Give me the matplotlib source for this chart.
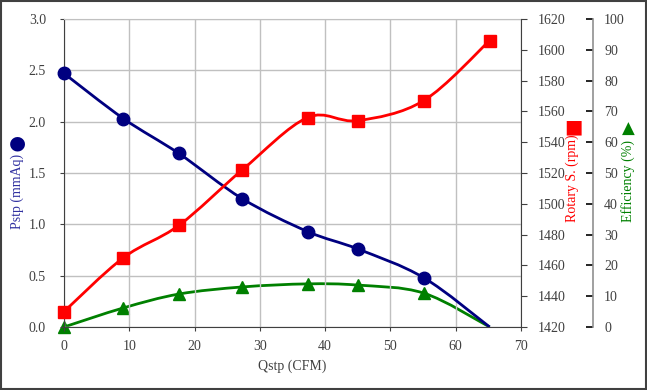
import numpy as np
import matplotlib
matplotlib.use("Agg")
import matplotlib.pyplot as plt
from matplotlib.path import Path
from matplotlib.patches import PathPatch, Rectangle

# === DATA ===
qstp = [0.0, 9.1, 17.6, 27.3, 37.3, 45.0, 55.1, 65.2]
pstp = [2.47, 2.03, 1.69, 1.25, 0.93, 0.76, 0.48, 0.0]
rotary = [1430, 1465, 1486, 1522, 1556, 1554, 1567, 1606]
efficiency = [0.0, 6.2, 10.7, 13.0, 14.0, 13.6, 11.0, 0.0]

x_ticks = [0, 10, 20, 30, 40, 50, 60, 70]
p_ticks = [0.0, 0.5, 1.0, 1.5, 2.0, 2.5, 3.0]
r_ticks = [1420, 1440, 1460, 1480, 1500, 1520, 1540, 1560, 1580, 1600, 1620]
e_ticks = [0, 10, 20, 30, 40, 50, 60, 70, 80, 90, 100]

BLUE = '#000080'
RED = '#FF0000'
GREEN = '#008000'
TXT = '#404040'

plt.rcParams['font.family'] = ['Liberation Serif', 'DejaVu Serif']
plt.rcParams['font.size'] = 10


def smooth_path(xs, ys):
    """Excel-like smoothed line as cubic Bezier path (data coords)."""
    pts = np.column_stack([xs, ys]).astype(float)
    ext = np.vstack([pts[0], pts, pts[-1]])
    verts = [pts[0]]
    codes = [Path.MOVETO]
    for i in range(len(pts) - 1):
        p0, p1, p2, p3 = ext[i], ext[i + 1], ext[i + 2], ext[i + 3]
        c1 = p1 + (p2 - p0) / 6.0
        c2 = p2 - (p3 - p1) / 6.0
        verts += [c1, c2, p2]
        codes += [Path.CURVE4] * 3
    return Path(verts, codes)


def draw_series(ax, xs, ys, color, marker, ms, n_marks):
    ax.add_patch(PathPatch(smooth_path(xs, ys), facecolor='none',
                           edgecolor=color, lw=2.0, zorder=3))
    ax.plot(xs[:n_marks], ys[:n_marks], linestyle='none', marker=marker,
            markersize=ms, color=color, zorder=4, clip_on=False)


fig = plt.figure(figsize=(6.47, 3.90), dpi=100)
ax = fig.add_axes([64 / 647, 1 - 327 / 390, 457 / 647, 308 / 390])
ax_r = ax.twinx()
ax_e = ax.twinx()

# --- main axis (Pstp) ---
ax.set_xlim(0, 70)
ax.set_ylim(0, 3.0)
ax.set_xticks(x_ticks)
ax.set_yticks(p_ticks)
ax.set_yticklabels([f"{v:.1f}" for v in p_ticks])
ax.grid(True, color='#c0c0c0', lw=1.0)
ax.set_axisbelow(True)
ax.tick_params(axis='both', colors=TXT, labelsize=10, length=3)
ax.tick_params(axis='x', pad=6)
ax.tick_params(axis='y', pad=10)
for s in ['left', 'bottom']:
    ax.spines[s].set_color(TXT)
ax.spines['top'].set_color('#c0c0c0')
ax.spines['right'].set_visible(False)
ax.set_xlabel("Qstp (CFM)", color=TXT, fontsize=10, labelpad=5)

# --- rotary axis ---
ax_r.set_ylim(1420, 1620)
ax_r.set_yticks(r_ticks)
ax_r.spines['right'].set_color(TXT)
for s in ['top', 'left', 'bottom']:
    ax_r.spines[s].set_visible(False)
ax_r.tick_params(axis='y', colors=TXT, labelsize=10, length=4, pad=8)

# --- efficiency axis ---
ax_e.set_ylim(0, 100)
ax_e.set_yticks(e_ticks)
ax_e.spines['right'].set_position(('axes', 529 / 457))
ax_e.spines['right'].set_color('#909090')
ax_e.spines['right'].set_linewidth(1.2)
for s in ['top', 'left', 'bottom']:
    ax_e.spines[s].set_visible(False)
ax_e.tick_params(axis='y', direction='in', colors='black', labelcolor=TXT,
                 labelsize=10, length=5, width=1.2, pad=8)

# --- series ---
draw_series(ax_e, qstp, efficiency, GREEN, '^', 8, 7)
draw_series(ax_r, qstp, rotary, RED, 's', 8, 8)
draw_series(ax, qstp, pstp, BLUE, 'o', 9, 7)
ax.set_zorder(ax_e.get_zorder() + 1)
ax.patch.set_visible(False)
ax_r.set_zorder(ax.get_zorder() + 1)

# --- axis labels with symbols ---
fig.text(17 / 647, 1 - 191 / 390, "Pstp (mmAq)", rotation=90, color='#3030a0',
         fontsize=10, ha='center', va='center')
fig.text(17 / 647, 1 - 143 / 390, "\u25CF", color=BLUE, fontsize=14,
         family='DejaVu Sans', ha='center', va='center')
fig.text(572 / 647, 1 - 178 / 390, "Rotary S. (rpm)", rotation=90, color=RED,
         fontsize=10, ha='center', va='center')
fig.text(573 / 647, 1 - 127 / 390, "\u25A0", color=RED, fontsize=14,
         family='DejaVu Sans', ha='center', va='center')
fig.text(628 / 647, 1 - 181 / 390, "Efficiency (%)", rotation=90, color=GREEN,
         fontsize=10, ha='center', va='center')
fig.text(628 / 647, 1 - 129 / 390, "\u25B2", color=GREEN, fontsize=12,
         family='DejaVu Sans', ha='center', va='center')

# outer frame
fig.patches.append(Rectangle((0.0015, 0.0025), 0.997, 0.995, transform=fig.transFigure,
                             fill=False, edgecolor='#404040', lw=1.5))

fig.savefig("out.png", dpi=100)
